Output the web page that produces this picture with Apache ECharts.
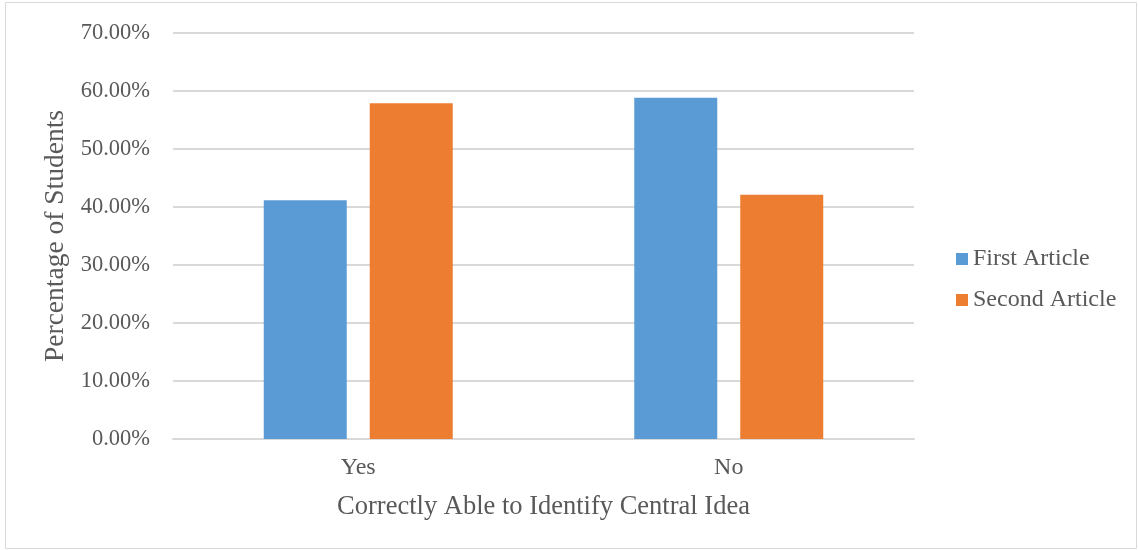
<!DOCTYPE html>
<html>
<head>
<meta charset="utf-8">
<script src="https://cdn.jsdelivr.net/npm/echarts@6/dist/echarts.min.js"></script>
<style>
  html, body { margin: 0; padding: 0; background: #fff; }
  #chart { width: 1138px; height: 550px; }
</style>
</head>
<body>
<div id="chart"></div>
<script>
// Categories and series values (percent of students)
const categories = ['Yes', 'No'];
const firstArticle = [41.18, 58.82];
const secondArticle = [57.89, 42.11];
const seriesNames = ['First Article', 'Second Article'];
const yTicks = [0, 10, 20, 30, 40, 50, 60, 70];

const FONT = '"Liberation Serif", "Times New Roman", serif';
const TEXT = '#595959';

const chart = echarts.init(document.getElementById('chart'));
chart.setOption({
  animation: false,
  textStyle: { fontFamily: FONT },
  graphic: [{
    type: 'rect',
    shape: { x: 5.5, y: 2.5, width: 1131, height: 546 },
    style: { fill: 'none', stroke: '#d9d9d9', lineWidth: 1 },
    silent: true
  }],
  grid: { left: 173, right: 224, top: 33, bottom: 111, containLabel: false },
  legend: {
    orient: 'vertical',
    left: 951,
    top: 242,
    itemWidth: 12,
    itemHeight: 12,
    itemGap: 17,
    icon: 'rect',
    textStyle: { fontFamily: FONT, fontSize: 24, color: TEXT },
    data: seriesNames
  },
  xAxis: {
    type: 'category',
    data: categories,
    name: 'Correctly Able to Identify Central Idea',
    nameLocation: 'middle',
    nameGap: 55,
    nameTextStyle: { fontFamily: FONT, fontSize: 26.5, color: TEXT },
    axisLine: { lineStyle: { color: '#d9d9d9', width: 2 } },
    axisTick: { show: false },
    axisLabel: { fontFamily: FONT, fontSize: 24, color: TEXT, margin: 17 }
  },
  yAxis: {
    type: 'value',
    min: yTicks[0],
    max: yTicks[yTicks.length - 1],
    interval: 10,
    name: 'Percentage of Students',
    nameLocation: 'middle',
    nameGap: 92,
    nameTextStyle: { fontFamily: FONT, fontSize: 27.5, color: TEXT },
    axisLine: { show: false },
    axisTick: { show: false },
    splitLine: { lineStyle: { color: '#d9d9d9', width: 2 } },
    axisLabel: {
      fontFamily: FONT, fontSize: 22.5, color: TEXT, margin: 23,
      formatter: v => v.toFixed(2) + '%'
    }
  },
  series: [
    {
      name: seriesNames[0], type: 'bar', data: firstArticle,
      itemStyle: { color: '#5b9bd5' },
      barWidth: 83, barGap: '27.7%'
    },
    {
      name: seriesNames[1], type: 'bar', data: secondArticle,
      itemStyle: { color: '#ed7d31' },
      barWidth: 83, barGap: '27.7%'
    }
  ]
});
</script>
</body>
</html>
